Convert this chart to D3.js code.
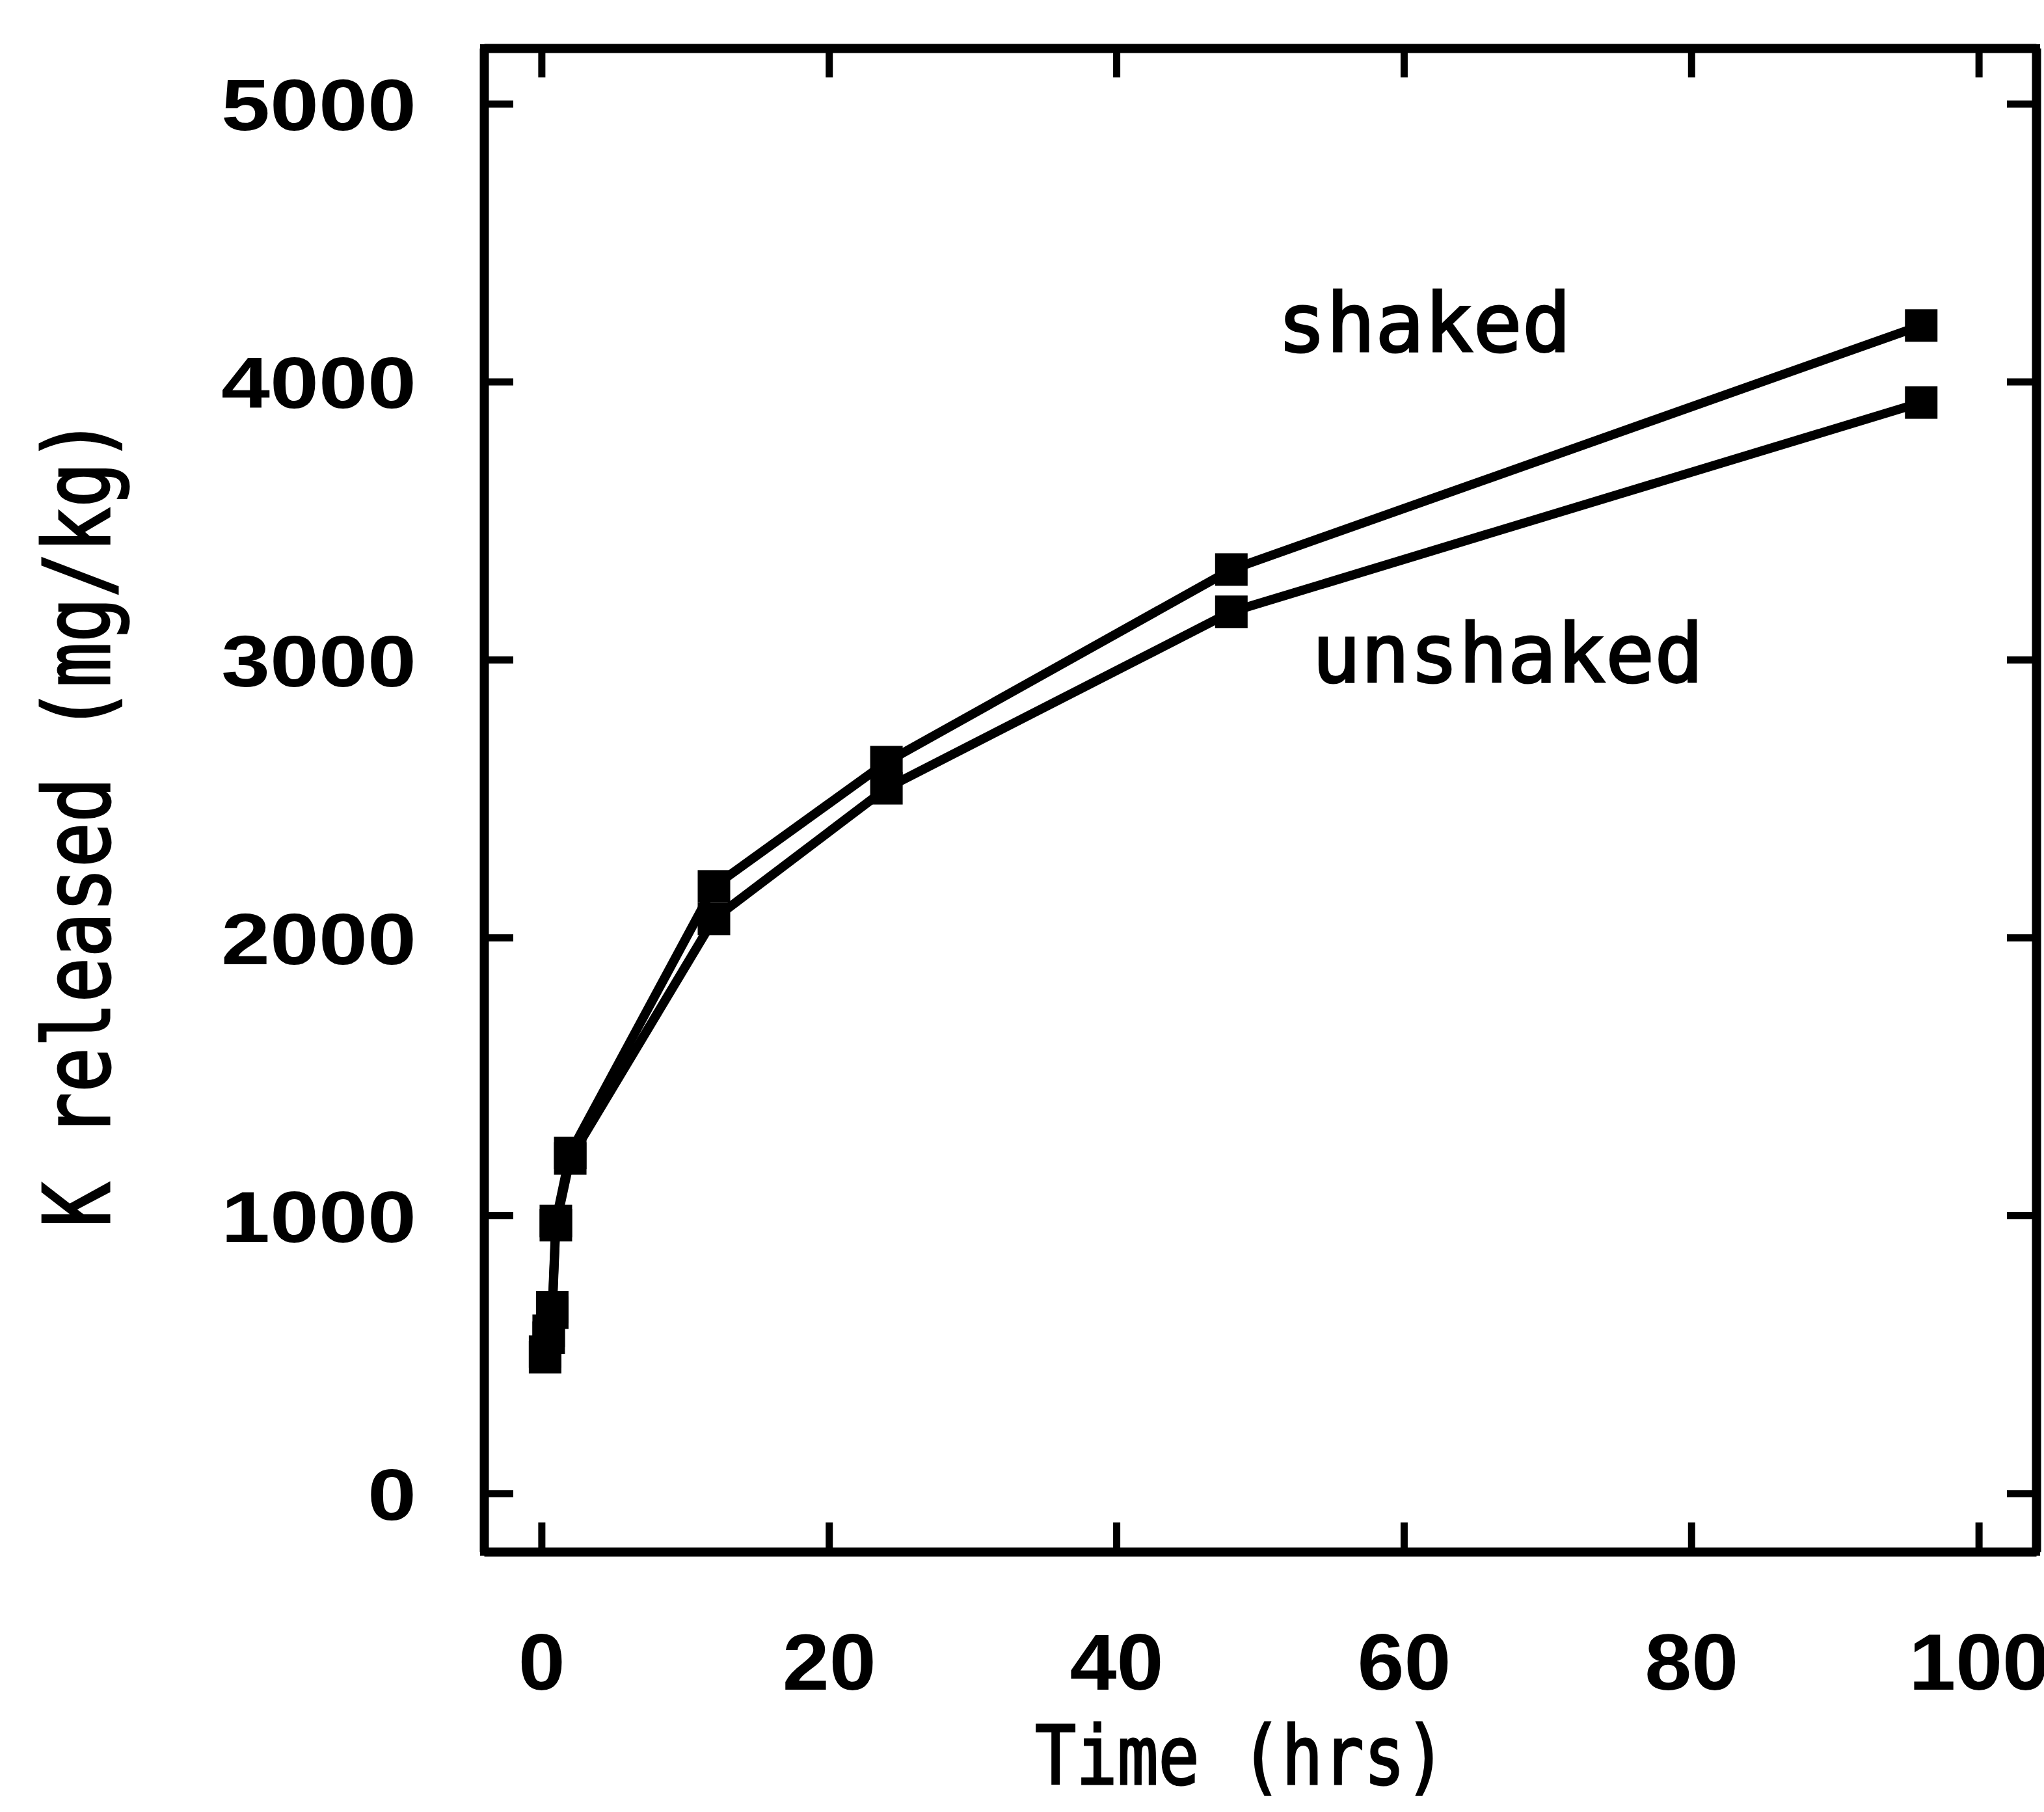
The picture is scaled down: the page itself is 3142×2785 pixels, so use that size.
<!DOCTYPE html>
<html>
<head>
<meta charset="utf-8">
<script src="https://cdn.jsdelivr.net/npm/d3@7"></script>
<style>
  body { margin: 0; background: #fff; }
  svg { display: block; }
</style>
</head>
<body>
<svg width="3142" height="2785"></svg>
<script>
// sampling times (hrs) and K released (mg/kg)
var hours    = [0.25, 0.5, 0.75, 1, 2, 12, 24, 48, 96];
var shaked   = [510, 585, 670, 980, 1225, 2184, 2631, 3324, 4202];
var unshaked = [490, 560, 650, 965, 1205, 2067, 2537, 3172, 3925];

var xTicks = [0, 20, 40, 60, 80, 100];
var yTicks = [0, 1000, 2000, 3000, 4000, 5000];

var seriesNames = ["shaked", "unshaked"];
// label anchors in data units (hrs, mg/kg)
var labelAt = [[51.2, 4110], [53.6, 2921]];

var svg = d3.select("svg");

// plot frame (note: "top" is taken by window.top, so use frame* names)
var frameL = 744, frameR = 3130, frameT = 74, frameB = 2385;

var x = d3.scaleLinear().domain([-4, 104]).range([frameL, frameR]);
var y = d3.scaleLinear().domain([-210, 5200]).range([frameB, frameT]);

// frame + inward ticks on all four sides
function styleAxis(g) {
  g.select(".domain").attr("stroke", "#000").attr("stroke-width", 14);
  g.selectAll(".tick line").attr("stroke", "#000").attr("stroke-width", 11);
}

svg.append("g")
  .attr("transform", "translate(0," + frameB + ")")
  .call(d3.axisBottom(x).tickValues(xTicks).tickSize(-45).tickSizeOuter(0).tickFormat(d3.format("d")))
  .call(styleAxis)
  .call(function(g) {
    g.selectAll(".tick text")
      .attr("y", 212).attr("dy", 0)
      .attr("font-family", "Liberation Sans, Arial, sans-serif")
      .attr("font-weight", "bold")
      .attr("font-size", 122)
      .attr("fill", "#000")
      .attr("textLength", function(d) { return String(d).length * 72; })
      .attr("lengthAdjust", "spacingAndGlyphs");
  });

svg.append("g")
  .attr("transform", "translate(0," + frameT + ")")
  .call(d3.axisTop(x).tickValues(xTicks).tickSize(-45).tickSizeOuter(0).tickFormat(""))
  .call(styleAxis);

svg.append("g")
  .attr("transform", "translate(" + frameL + ",0)")
  .call(d3.axisLeft(y).tickValues(yTicks).tickSize(-45).tickSizeOuter(0).tickPadding(104).tickFormat(d3.format("d")))
  .call(styleAxis)
  .call(function(g) {
    g.selectAll(".tick text")
      .attr("dy", "0.36em")
      .attr("font-family", "Liberation Sans, Arial, sans-serif")
      .attr("font-weight", "bold")
      .attr("font-size", 112)
      .attr("fill", "#000")
      .attr("textLength", function(d) { return String(d).length * 75; })
      .attr("lengthAdjust", "spacingAndGlyphs");
  });

svg.append("g")
  .attr("transform", "translate(" + frameR + ",0)")
  .call(d3.axisRight(y).tickValues(yTicks).tickSize(-45).tickSizeOuter(0).tickFormat(""))
  .call(styleAxis);

// close the corners of the frame
svg.append("rect")
  .attr("x", frameL).attr("y", frameT)
  .attr("width", frameR - frameL).attr("height", frameB - frameT)
  .attr("fill", "none").attr("stroke", "#000").attr("stroke-width", 12);

// series
var line = d3.line()
  .x(function(d) { return x(d[0]); })
  .y(function(d) { return y(d[1]); });

[shaked, unshaked].forEach(function(vals) {
  var pts = hours.map(function(h, i) { return [h, vals[i]]; });

  svg.append("path")
    .datum(pts)
    .attr("d", line)
    .attr("fill", "none")
    .attr("stroke", "#000")
    .attr("stroke-width", 14)
    .attr("stroke-linejoin", "round");

  svg.append("g").selectAll("rect")
    .data(pts)
    .join("rect")
    .attr("x", function(d) { return x(d[0]) - 25; })
    .attr("y", function(d) { return y(d[1]) - 25; })
    .attr("width", 50)
    .attr("height", 50)
    .attr("fill", "#000");
});

// series labels
svg.append("g").selectAll("text")
  .data(seriesNames)
  .join("text")
  .attr("x", function(d, i) { return x(labelAt[i][0]); })
  .attr("y", function(d, i) { return y(labelAt[i][1]); })
  .attr("font-family", "DejaVu Sans Mono, monospace")
  .attr("font-size", 125)
  .attr("stroke", "#000")
  .attr("stroke-width", 3)
  .text(function(d) { return d; });

// axis titles
svg.append("text")
  .attr("x", (x(0) + x(100)) / 2 - 30)
  .attr("y", 2742)
  .attr("text-anchor", "middle")
  .attr("font-family", "DejaVu Sans Mono, monospace")
  .attr("font-size", 124)
  .attr("stroke", "#000")
  .attr("stroke-width", 3)
  .attr("textLength", 632)
  .attr("lengthAdjust", "spacingAndGlyphs")
  .text("Time (hrs)");

svg.append("text")
  .attr("transform", "translate(168,1264) rotate(-90)")
  .attr("text-anchor", "middle")
  .attr("font-family", "DejaVu Sans Mono, monospace")
  .attr("font-size", 140)
  .attr("stroke", "#000")
  .attr("stroke-width", 3)
  .attr("textLength", 1245)
  .attr("lengthAdjust", "spacingAndGlyphs")
  .text("K released (mg/kg)");
</script>
</body>
</html>
